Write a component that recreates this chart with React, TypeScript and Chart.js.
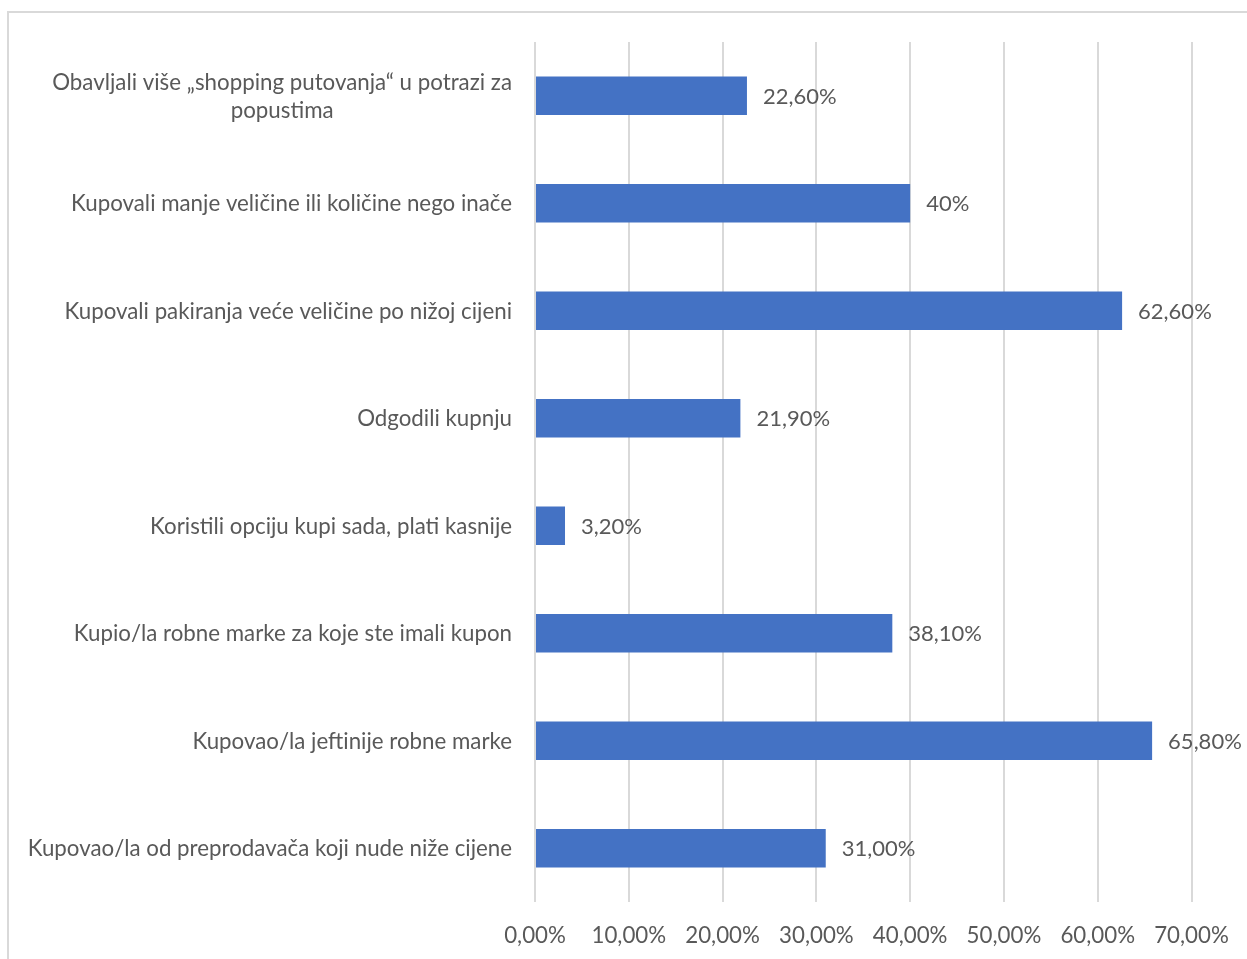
import React, { useEffect, useRef } from "react";
import { Chart, registerables } from "chart.js";

Chart.register(...registerables);

const categories: (string | string[])[] = [
  ["Obavljali više „shopping putovanja“ u potrazi za", "popustima"],
  "Kupovali manje veličine ili količine nego inače",
  "Kupovali pakiranja veće veličine po nižoj cijeni",
  "Odgodili kupnju",
  "Koristili opciju kupi sada, plati kasnije",
  "Kupio/la robne marke za koje ste imali kupon",
  "Kupovao/la jeftinije robne marke",
  "Kupovao/la od preprodavača koji nude niže cijene",
];

const values: number[] = [22.6, 40, 62.6, 21.9, 3.2, 38.1, 65.8, 31.0];

const valueLabels: string[] = [
  "22,60%",
  "40%",
  "62,60%",
  "21,90%",
  "3,20%",
  "38,10%",
  "65,80%",
  "31,00%",
];

const axisMin = 0;
const axisMax = 70;
const axisStep = 10;

const FONT = "Lato, 'Noto Sans', sans-serif";
const TEXT_COLOR = "#595959";
const CAT_FONT_SIZE = 22.3;
const LINE_HEIGHT = 28;
const LABEL_GAP = 23;

const dataLabelPlugin = {
  id: "dataLabels",
  afterDatasetsDraw(chart: any) {
    const ctx = chart.ctx;
    const meta = chart.getDatasetMeta(0);
    ctx.save();
    ctx.font = `22px ${FONT}`;
    ctx.fillStyle = TEXT_COLOR;
    ctx.textAlign = "left";
    ctx.textBaseline = "middle";
    meta.data.forEach((bar: any, i: number) => {
      ctx.fillText(valueLabels[i], bar.x + 16, bar.y + 1);
    });
    ctx.restore();
  },
};

// Category labels: right-aligned block, wrapped lines centred within the block
const categoryLabelPlugin = {
  id: "categoryLabels",
  afterDraw(chart: any) {
    const ctx = chart.ctx;
    const yScale = chart.scales.y;
    const right = yScale.right - LABEL_GAP;
    ctx.save();
    ctx.font = `${CAT_FONT_SIZE}px ${FONT}`;
    ctx.fillStyle = TEXT_COLOR;
    ctx.textAlign = "center";
    ctx.textBaseline = "middle";
    categories.forEach((label, i) => {
      const lines = Array.isArray(label) ? label : [label];
      const maxW = Math.max(...lines.map((l) => ctx.measureText(l).width));
      const cx = right - maxW / 2;
      const cy = yScale.getPixelForTick(i);
      const startY = cy - ((lines.length - 1) * LINE_HEIGHT) / 2;
      lines.forEach((line, j) => {
        ctx.fillText(line, cx, startY + j * LINE_HEIGHT + 1);
      });
    });
    ctx.restore();
  },
};

export default function App() {
  const canvasRef = useRef<HTMLCanvasElement | null>(null);

  useEffect(() => {
    if (!canvasRef.current) return;
    const chart = new Chart(canvasRef.current, {
      type: "bar",
      data: {
        labels: categories,
        datasets: [
          {
            data: values,
            backgroundColor: "#4472C4",
            borderWidth: 0,
            categoryPercentage: 1,
            barPercentage: 0.356,
          },
        ],
      },
      options: {
        indexAxis: "y",
        animation: false,
        responsive: false,
        maintainAspectRatio: false,
        devicePixelRatio: 1,
        layout: { padding: { top: 42, right: 55.5, bottom: 0, left: 0 } },
        plugins: {
          legend: { display: false },
          tooltip: { enabled: false },
        },
        scales: {
          x: {
            min: axisMin,
            max: axisMax,
            grid: { color: "#d9d9d9", lineWidth: 2, drawTicks: false },
            border: { display: false },
            ticks: {
              stepSize: axisStep,
              padding: 20,
              color: TEXT_COLOR,
              font: { family: FONT, size: CAT_FONT_SIZE },
              callback: (v: any) => Number(v).toFixed(2).replace(".", ",") + "%",
            },
            afterFit: (scale: any) => {
              scale.height = 57;
              scale.paddingLeft = 0;
              scale.paddingRight = 0;
            },
          },
          y: {
            grid: { display: false, drawTicks: false },
            border: { display: false },
            ticks: { display: false, autoSkip: false },
            afterFit: (scale: any) => {
              scale.width = 535;
            },
          },
        },
      },
      plugins: [dataLabelPlugin, categoryLabelPlugin],
    });
    return () => chart.destroy();
  }, []);

  return (
    <div
      style={{
        position: "fixed",
        left: 0,
        top: 0,
        width: 1247,
        height: 959,
        overflow: "hidden",
        background: "#ffffff",
      }}
    >
      <div
        style={{
          position: "absolute",
          left: 7,
          top: 11,
          width: 1300,
          height: 1000,
          border: "2px solid #d9d9d9",
          boxSizing: "border-box",
        }}
      />
      <canvas
        ref={canvasRef}
        width={1247}
        height={959}
        style={{ position: "absolute", left: 0, top: 0, width: 1247, height: 959 }}
      />
    </div>
  );
}
